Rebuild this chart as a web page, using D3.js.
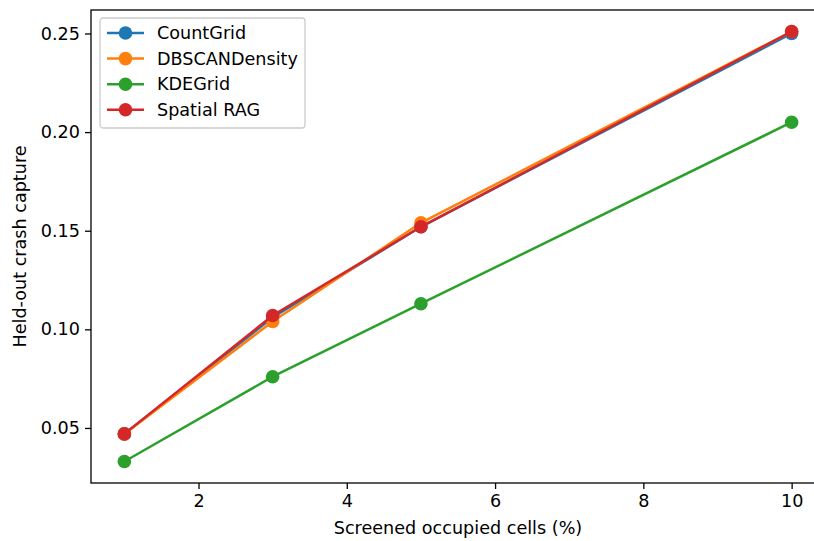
<!DOCTYPE html>
<html>
<head>
<meta charset="utf-8">
<script src="https://cdn.jsdelivr.net/npm/d3@7"></script>
<style>
  body { margin: 0; background: #fff; }
  svg { display: block; font-family: "DejaVu Sans", sans-serif; }
</style>
</head>
<body>
<svg width="814" height="541"></svg>
<script>
var xVals = [1, 3, 5, 10];
var seriesNames = ['CountGrid', 'DBSCANDensity', 'KDEGrid', 'Spatial RAG'];
var countGrid = [0.047, 0.106, 0.152, 0.250];
var dbscanDensity = [0.047, 0.104, 0.154, 0.251];
var kdeGrid = [0.033, 0.076, 0.113, 0.205];
var spatialRag = [0.047, 0.107, 0.152, 0.251];
var xTicks = [2, 4, 6, 8, 10];
var yTicks = [0.05, 0.10, 0.15, 0.20, 0.25];
var colors = ['#1f77b4', '#ff7f0e', '#2ca02c', '#d62728'];

var series = [countGrid, dbscanDensity, kdeGrid, spatialRag].map((v, i) => ({
  name: seriesNames[i], color: colors[i],
  pts: v.map((yv, j) => ({ x: xVals[j], y: yv }))
}));

var svg = d3.select("svg");
var plotL = 91, plotR = 825, plotT = 10, plotB = 483;

var x = d3.scaleLinear().domain([0.55, 10.45]).range([plotL, plotR]);
var y = d3.scaleLinear().domain([0.0221, 0.2619]).range([plotB, plotT]);

var fs = 17.6;

// axes
var xAxis = svg.append("g")
  .attr("transform", "translate(0," + plotB + ")")
  .call(d3.axisBottom(x).tickValues(xTicks).tickFormat(d3.format("d")).tickSizeInner(6).tickSizeOuter(0).tickPadding(6));
var yAxis = svg.append("g")
  .attr("transform", "translate(" + plotL + ",0)")
  .call(d3.axisLeft(y).tickValues(yTicks).tickFormat(d3.format(".2f")).tickSizeInner(6).tickSizeOuter(0).tickPadding(5));
[xAxis, yAxis].forEach(a => {
  a.selectAll("text").attr("font-size", fs).attr("font-family", "DejaVu Sans").attr("fill", "#000");
  a.selectAll("line").attr("stroke", "#000").attr("stroke-width", 1.3);
  a.select(".domain").remove();
});

// frame
svg.append("rect")
  .attr("x", plotL).attr("y", plotT)
  .attr("width", plotR - plotL).attr("height", plotB - plotT)
  .attr("fill", "none").attr("stroke", "#000").attr("stroke-width", 1.3);

var line = d3.line().x(d => x(d.x)).y(d => y(d.y));

var g = svg.append("g");
series.forEach(s => {
  g.append("path").datum(s.pts)
    .attr("d", line).attr("fill", "none")
    .attr("stroke", s.color).attr("stroke-width", 2.5);
  g.selectAll(null).data(s.pts).enter().append("circle")
    .attr("cx", d => x(d.x)).attr("cy", d => y(d.y)).attr("r", 6.8)
    .attr("fill", s.color);
});

// labels
svg.append("text")
  .attr("x", 458).attr("y", 534)
  .attr("text-anchor", "middle").attr("font-size", fs)
  .text("Screened occupied cells (%)");
svg.append("text")
  .attr("transform", "translate(26," + (plotT + plotB) / 2 + ") rotate(-90)")
  .attr("text-anchor", "middle").attr("font-size", fs)
  .text("Held-out crash capture");

// legend
var lg = svg.append("g").attr("transform", "translate(100,18)");
lg.append("rect").attr("width", 205).attr("height", 110).attr("rx", 3)
  .attr("fill", "#fff").attr("fill-opacity", 0.8)
  .attr("stroke", "#ccc").attr("stroke-width", 1.3);
series.forEach((s, i) => {
  var yy = 15 + i * 25.6;
  lg.append("line").attr("x1", 7).attr("x2", 44).attr("y1", yy).attr("y2", yy)
    .attr("stroke", s.color).attr("stroke-width", 2.5);
  lg.append("circle").attr("cx", 25.5).attr("cy", yy).attr("r", 6.8).attr("fill", s.color);
  lg.append("text").attr("x", 57).attr("y", yy).attr("dy", "0.35em")
    .attr("font-size", fs).text(s.name);
});
</script>
</body>
</html>
